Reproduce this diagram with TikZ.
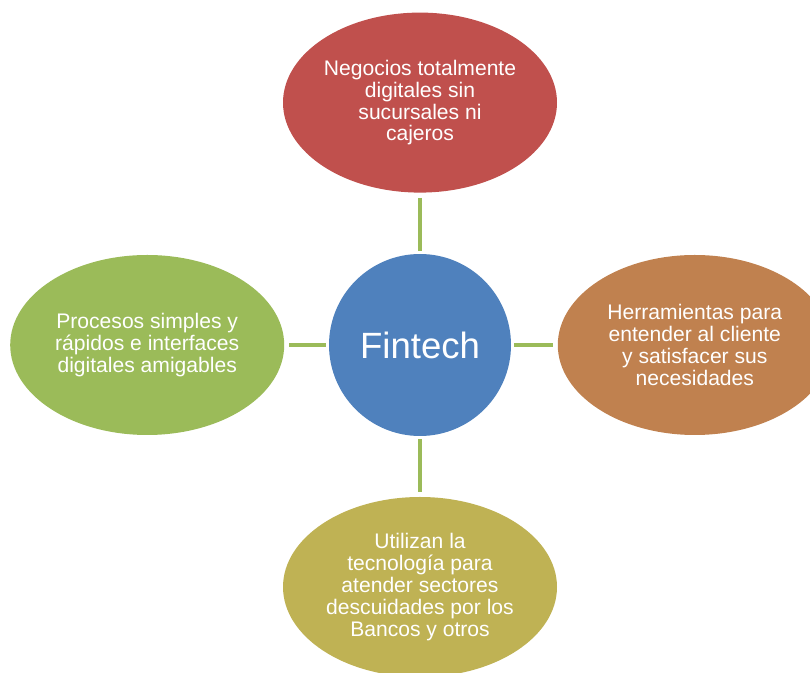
\documentclass[tikz,border=0pt]{standalone}
\usepackage{fontspec}
\setmainfont{Liberation Sans}
\usetikzlibrary{shapes.geometric}

\definecolor{hubblue}{HTML}{4F81BD}
\definecolor{topred}{HTML}{C0504D}
\definecolor{rightbrown}{HTML}{C0814F}
\definecolor{bottomolive}{HTML}{BFB254}
\definecolor{leftgreen}{HTML}{9BBB59}

\tikzset{
  idea/.style={ellipse, minimum width=6.85cm, minimum height=4.5cm, inner sep=0pt,
    text=white, align=center, font=\fontsize{15}{15.6}\selectfont},
  link/.style={line width=2.8pt, draw=leftgreen, shorten <=3.5pt, shorten >=1.8pt}
}

\begin{document}
\begin{tikzpicture}
\useasboundingbox (0,0) rectangle (20.25,16.825);

% Center
\node[circle, fill=hubblue, minimum size=4.55cm, inner sep=0pt, text=white,
  font=\fontsize{26}{26}\selectfont] (fintech) at (10.5,8.2) {Fintech};

% Ideas around it
\node[idea, fill=topred] (negocios) at (10.5,14.26)
  {Negocios totalmente\\digitales sin\\sucursales ni\\cajeros};
\node[idea, fill=rightbrown] (herramientas) at (17.37,8.2)
  {Herramientas para\\entender al cliente\\y satisfacer sus\\necesidades};
\node[idea, fill=bottomolive] (utilizan) at (10.5,2.15)
  {Utilizan la\\tecnología para\\atender sectores\\descuidades por los\\Bancos y otros};
\node[idea, fill=leftgreen] (procesos) at (3.68,8.2)
  {Procesos simples y\\rápidos e interfaces\\digitales amigables};

% Links
\foreach \n in {negocios, herramientas, utilizan, procesos}
  \draw[link] (\n) -- (fintech);
\end{tikzpicture}
\end{document}
